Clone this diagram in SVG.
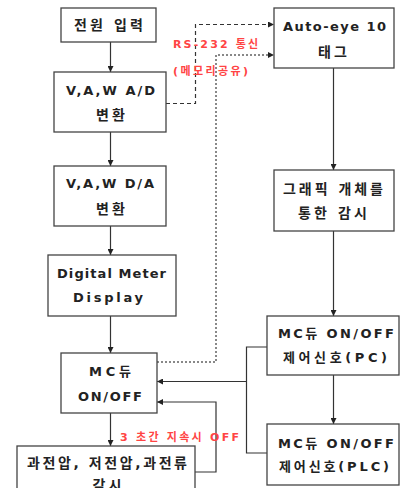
<svg xmlns="http://www.w3.org/2000/svg" width="401" height="488" viewBox="0 0 401 488">
<style>
.box{fill:#fff;stroke:#444;stroke-width:1.3}
.t{font-family:"DejaVu Sans","Noto Sans CJK KR",sans-serif;font-weight:bold;font-size:13px;fill:#222;text-anchor:middle}
.k{font-size:14px}
.r{font-family:"DejaVu Sans","Noto Sans CJK KR",sans-serif;font-weight:bold;font-size:11px;fill:#ff4444;text-anchor:start}
.ln{fill:none;stroke:#333;stroke-width:1.2}
.dash{fill:none;stroke:#333;stroke-width:1.2;stroke-dasharray:4 3}
.dot{fill:none;stroke:#888;stroke-width:2;stroke-dasharray:2 2}
</style>
<defs>
<marker id="ah" viewBox="0 0 10 10" refX="10" refY="5" markerWidth="6" markerHeight="6" orient="auto" markerUnits="userSpaceOnUse">
<path d="M0,0 L10,5 L0,10 z" fill="#222"/>
</marker>
</defs>
<g id="connectors">
<line class="ln" x1="110.5" y1="42" x2="110.5" y2="72" marker-end="url(#ah)"/>
<line class="ln" x1="110.5" y1="132" x2="110.5" y2="166" marker-end="url(#ah)"/>
<line class="ln" x1="110.5" y1="226" x2="110.5" y2="255" marker-end="url(#ah)"/>
<line class="ln" x1="110.5" y1="316" x2="110.5" y2="353" marker-end="url(#ah)"/>
<line class="ln" x1="110.5" y1="413" x2="110.5" y2="446" marker-end="url(#ah)"/>
<line class="ln" x1="333.5" y1="68" x2="333.5" y2="170" marker-end="url(#ah)"/>
<line class="ln" x1="333.5" y1="231" x2="333.5" y2="316" marker-end="url(#ah)"/>
<line class="ln" x1="333.5" y1="375" x2="333.5" y2="424" marker-end="url(#ah)"/>
<polyline class="ln" points="267,347 246.5,347 246.5,453 267,453"/>
<polyline class="ln" points="246.5,381.5 157,381.5" marker-end="url(#ah)"/>
<polyline class="ln" points="195,472 216,472 216,402 157,402" marker-end="url(#ah)"/>
<polyline class="dash" points="166,103.5 195.5,103.5 195.5,24.5 274,24.5" marker-end="url(#ah)"/>
<polyline class="dot" points="157,362 216,362 216,55 268,55"/>
<path d="M268,52 L274,55 L268,58 z" fill="#222"/>
<text class="r" x="173" y="48" textLength="85" lengthAdjust="spacing">RS-232 통신</text>
<text class="r" x="173" y="75" textLength="75" lengthAdjust="spacing">(메모리공유)</text>
<text class="r" x="120" y="441" textLength="119" lengthAdjust="spacing">3 초간 지속시  OFF</text>
</g>
<g id="n1">
<rect class="box" x="61" y="8" width="95" height="34"/>
<text class="t k" x="108.5" y="30" textLength="69" lengthAdjust="spacing">전원 입력</text>
</g>
<g id="n2">
<rect class="box" x="54" y="72" width="112" height="60"/>
<text class="t" x="110.5" y="95" textLength="89" lengthAdjust="spacing">V,A,W A/D</text>
<text class="t k" x="110.5" y="120" textLength="29" lengthAdjust="spacing">변환</text>
</g>
<g id="n3">
<rect class="box" x="54" y="166" width="112" height="60"/>
<text class="t" x="110" y="188" textLength="88" lengthAdjust="spacing">V,A,W D/A</text>
<text class="t k" x="110.5" y="214" textLength="29" lengthAdjust="spacing">변환</text>
</g>
<g id="n4">
<rect class="box" x="48" y="255" width="128" height="61"/>
<text class="t" x="111.5" y="277.5" textLength="109" lengthAdjust="spacing">Digital Meter</text>
<text class="t" x="108" y="301.5" textLength="70" lengthAdjust="spacing">Display</text>
</g>
<g id="n5">
<rect class="box" x="61" y="353" width="96" height="60"/>
<text class="t" x="110" y="375.5" textLength="42" lengthAdjust="spacing">MC듀</text>
<text class="t" x="110" y="400.5" textLength="64" lengthAdjust="spacing">ON/OFF</text>
</g>
<g id="n6">
<rect class="box" x="17" y="446" width="178" height="60"/>
<text class="t k" x="107" y="468" textLength="160" lengthAdjust="spacing">과전압,  저전압,과전류</text>
<text class="t k" x="107" y="490" textLength="29" lengthAdjust="spacing">감시</text>
</g>
<g id="n7">
<rect class="box" x="274" y="8" width="120" height="60"/>
<text class="t" x="334.5" y="30.5" textLength="103" lengthAdjust="spacing">Auto-eye 10</text>
<text class="t k" x="332.5" y="57" textLength="29" lengthAdjust="spacing">태그</text>
</g>
<g id="n8">
<rect class="box" x="274" y="170" width="120" height="61"/>
<text class="t k" x="333" y="194" textLength="100" lengthAdjust="spacing">그래픽 개체를</text>
<text class="t k" x="332.5" y="218" textLength="69" lengthAdjust="spacing">통한 감시</text>
</g>
<g id="n9">
<rect class="box" x="267" y="316" width="132" height="59"/>
<text class="t" x="336" y="337.5" textLength="116" lengthAdjust="spacing">MC듀 ON/OFF</text>
<text class="t" x="335" y="361.5" textLength="104" lengthAdjust="spacing">제어신호(PC)</text>
</g>
<g id="n10">
<rect class="box" x="267" y="424" width="132" height="61"/>
<text class="t" x="336" y="447.5" textLength="116" lengthAdjust="spacing">MC듀 ON/OFF</text>
<text class="t" x="334" y="470.5" textLength="110" lengthAdjust="spacing">제어신호(PLC)</text>
</g>
</svg>
